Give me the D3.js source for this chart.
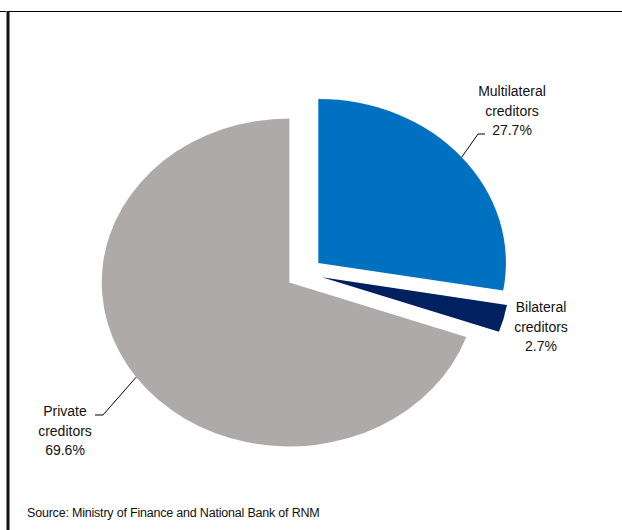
<!DOCTYPE html>
<html>
<head>
<meta charset="utf-8">
<script src="https://cdn.jsdelivr.net/npm/d3@7/dist/d3.min.js"></script>
<style>
  html, body { margin: 0; padding: 0; background: #fff; }
  svg { display: block; font-family: "Liberation Sans", Arial, sans-serif; }
</style>
</head>
<body>
<svg id="chart" width="622" height="530"></svg>
<script>
// Structure of public debt by creditor
const categories = ["Multilateral creditors", "Bilateral creditors", "Private creditors"];
const shares = [27.7, 2.7, 69.6];
const labelLines = [["Multilateral", "creditors", "27.7%"], ["Bilateral", "creditors", "2.7%"], ["Private", "creditors", "69.6%"]];
const colors = ["#0070c0", "#002060", "#adaaa9"];

const svg = d3.select("#chart");

// frame: top rule and heavy left rule
svg.append("line").attr("x1", 0).attr("x2", 622).attr("y1", 11.5).attr("y2", 11.5)
  .attr("stroke", "#000").attr("stroke-width", 1.2);
svg.append("rect").attr("x", 6).attr("y", 11).attr("width", 1).attr("height", 519).attr("fill", "#888");
svg.append("rect").attr("x", 7).attr("y", 11).attr("width", 2.5).attr("height", 519).attr("fill", "#111");

// pie geometry (drawn slightly wider than tall)
const cx = 304.3, cy = 273.2, r = 164, sx = 1.144, explode = 16;

const pie = d3.pie().sort(null).startAngle(0).endAngle(2 * Math.PI).value(d => d);
const arcs = pie(shares);
const arc = d3.arc().innerRadius(0).outerRadius(r);

function offset(d) {
  const mid = (d.startAngle + d.endAngle) / 2;
  return [cx + explode * Math.sin(mid) * sx, cy - explode * Math.cos(mid)];
}
function edgePoint(d) {
  const mid = (d.startAngle + d.endAngle) / 2;
  const [ox, oy] = offset(d);
  return [ox + r * Math.sin(mid) * sx, oy - r * Math.cos(mid)];
}

svg.append("g").selectAll("path").data(arcs).join("path")
  .attr("d", arc)
  .attr("fill", (d, i) => colors[i])
  .attr("transform", d => { const [ox, oy] = offset(d); return `translate(${ox},${oy}) scale(${sx},1)`; });

// leader lines from slice edge to the label
const leaders = [
  { i: 0, knee: [478, 134], end: [485, 134] },
  { i: 2, knee: [103, 415], end: [95, 415] }
];
leaders.forEach(l => {
  const p = edgePoint(arcs[l.i]);
  svg.append("polyline")
    .attr("points", [p, l.knee, l.end].map(q => q.join(",")).join(" "))
    .attr("fill", "none").attr("stroke", "#000").attr("stroke-width", 1);
});

// data labels
const labelPos = [
  { x: 512, y: 96 },
  { x: 541, y: 312 },
  { x: 65, y: 416 }
];
labelLines.forEach((lines, i) => {
  const t = svg.append("text").attr("text-anchor", "middle")
    .attr("font-size", 14).attr("fill", "#111");
  lines.forEach((s, k) => {
    t.append("tspan").attr("x", labelPos[i].x).attr("y", labelPos[i].y + k * 19.7).text(s);
  });
});

// source note
svg.append("text").attr("x", 27).attr("y", 517).attr("font-size", 12.5).attr("fill", "#111")
  .attr("letter-spacing", -0.2)
  .text("Source: Ministry of Finance and National Bank of RNM");
</script>
</body>
</html>
